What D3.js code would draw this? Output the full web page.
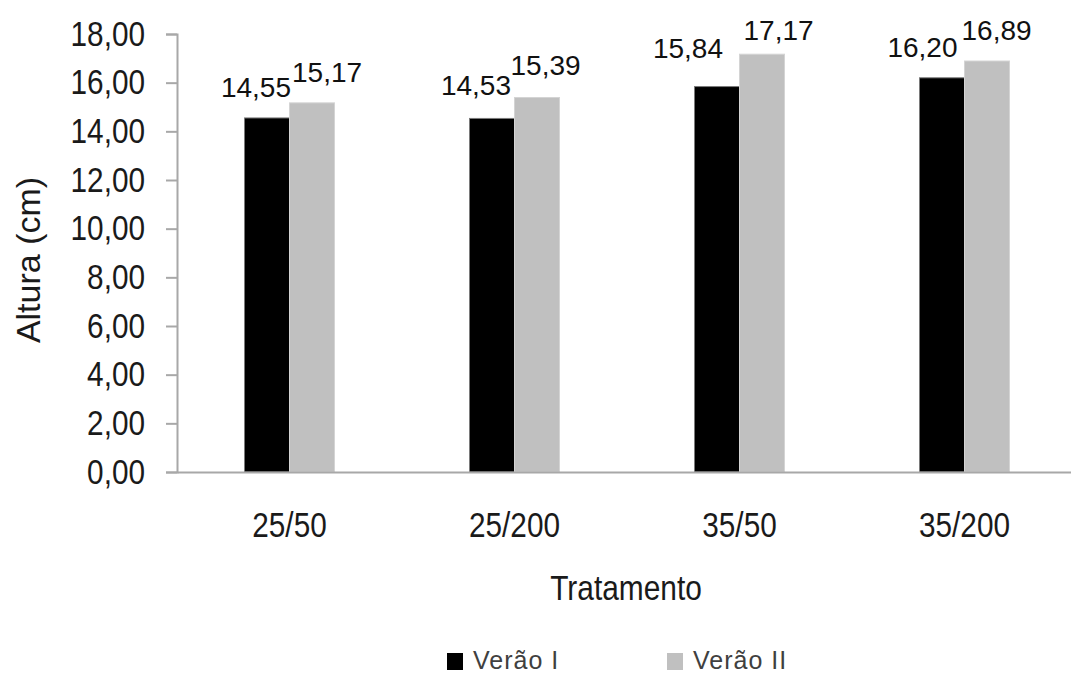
<!DOCTYPE html>
<html>
<head>
<meta charset="utf-8">
<script src="https://cdn.jsdelivr.net/npm/d3@7"></script>
<style>
  html, body { margin: 0; padding: 0; background: #fff; }
  svg { display: block; font-family: "Liberation Sans", Arial, sans-serif; }
</style>
</head>
<body>
<svg id="chart" width="1071" height="675"></svg>
<script>
// Plant height by treatment, two summer seasons
const categories = ["25/50", "25/200", "35/50", "35/200"];
const seriesNames = ["Verão I", "Verão II"];
const veraoI = [14.55, 14.53, 15.84, 16.20];
const veraoII = [15.17, 15.39, 17.17, 16.89];
const yTicks = [0, 2, 4, 6, 8, 10, 12, 14, 16, 18];
const seriesColors = ["#000000", "#c0c0c0"];

// Hand-placed value labels: [dx, dy] relative to the bar edge / top
const labelOffsets = [
  [[1.5, -21], [2.5, -21]],
  [[-3.5, -23], [-4, -22.5]],
  [[-16.5, -28.5], [4, -14]],
  [[-7, -21], [-3, -21]]
];

const svg = d3.select("#chart");
const plotLeft = 177, plotRight = 1077, plotTop = 34, plotBottom = 472;

const locale = d3.formatLocale({ decimal: ",", thousands: ".", grouping: [3], currency: ["", ""] });
const fmt = locale.format(".2f");

const x0 = d3.scaleBand().domain(categories).range([plotLeft, plotRight]).padding(0);
const groupW = x0.bandwidth() * 0.4;
const x1 = d3.scaleBand().domain(seriesNames).range([0, groupW]).padding(0);
const y = d3.scaleLinear().domain([0, 18]).range([plotBottom, plotTop]);

const rows = categories.map((c, i) => ({ cat: c, i, vals: [veraoI[i], veraoII[i]] }));

// Bars
const groups = svg.append("g").selectAll("g").data(rows).join("g")
  .attr("transform", d => `translate(${x0(d.cat) + (x0.bandwidth() - groupW) / 2},0)`);

groups.selectAll("rect").data(d => d.vals.map((v, s) => ({ v, s, i: d.i })))
  .join("rect")
  .attr("x", d => x1(seriesNames[d.s]))
  .attr("y", d => y(d.v))
  .attr("width", x1.bandwidth())
  .attr("height", d => y(0) - y(d.v))
  .attr("fill", d => seriesColors[d.s])
  .attr("stroke", d => d.s === 0 ? "#7a7a7a" : "#d4d4d4")
  .attr("stroke-width", 1);

// Value labels
groups.selectAll("text.val").data(d => d.vals.map((v, s) => ({ v, s, i: d.i })))
  .join("text")
  .attr("class", "val")
  .attr("x", d => {
    const off = labelOffsets[d.i][d.s][0];
    return d.s === 0 ? x1(seriesNames[0]) + x1.bandwidth() + off : x1(seriesNames[1]) + off;
  })
  .attr("y", d => y(d.v) + labelOffsets[d.i][d.s][1])
  .attr("text-anchor", d => d.s === 0 ? "end" : "start")
  .attr("font-size", 28)
  .attr("fill", "#111")
  .text(d => fmt(d.v));

// Y axis
const yAxis = svg.append("g")
  .attr("transform", `translate(${plotLeft},0)`)
  .call(d3.axisLeft(y).tickValues(yTicks).tickFormat(fmt).tickSize(11).tickSizeOuter(11).tickPadding(21));
yAxis.selectAll("path, line").attr("stroke", "#a8a8a8").attr("stroke-width", 2);
yAxis.selectAll("text")
  .attr("font-size", 35)
  .attr("font-family", "'Liberation Sans', Arial, sans-serif")
  .attr("fill", "#1a1a1a")
  .attr("x", -32 / 0.85)
  .attr("transform", "scale(0.85,1)");

// X axis
const xAxis = svg.append("g")
  .attr("transform", `translate(0,${plotBottom})`)
  .call(d3.axisBottom(x0).tickSize(0).tickSizeOuter(0));
xAxis.select("path").attr("stroke", "#a8a8a8").attr("stroke-width", 2);
xAxis.selectAll("text")
  .attr("font-size", 35)
  .attr("font-family", "'Liberation Sans', Arial, sans-serif")
  .attr("fill", "#1a1a1a")
  .attr("dy", null)
  .attr("y", 65)
  .attr("transform", "scale(0.85,1)");

// Axis titles
svg.append("text")
  .attr("transform", "translate(40,260) rotate(-90)")
  .attr("text-anchor", "middle")
  .attr("font-size", 34)
  .attr("fill", "#1a1a1a")
  .text("Altura (cm)");

svg.append("text")
  .attr("transform", `translate(${(plotLeft + plotRight) / 2 - 1},600) scale(0.83,1)`)
  .attr("text-anchor", "middle")
  .attr("font-size", 36)
  .attr("fill", "#1a1a1a")
  .text("Tratamento");

// Legend
const legendX = [447, 667];
const legend = svg.append("g").selectAll("g").data(seriesNames).join("g")
  .attr("transform", (d, i) => `translate(${legendX[i]},653)`);
legend.append("rect")
  .attr("width", 16).attr("height", 17)
  .attr("fill", (d, i) => seriesColors[i]);
legend.append("text")
  .attr("x", 26).attr("y", 16)
  .attr("font-size", 25)
  .attr("letter-spacing", 1)
  .attr("fill", "#404040")
  .text(d => d);
</script>
</body>
</html>
